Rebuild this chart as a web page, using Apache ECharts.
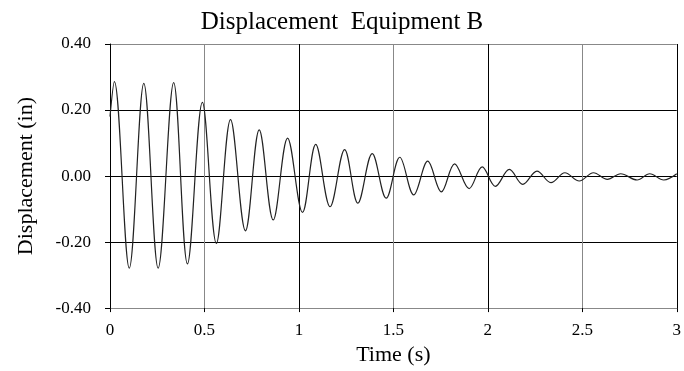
<!DOCTYPE html>
<html>
<head>
<meta charset="utf-8">
<script src="https://cdn.jsdelivr.net/npm/echarts@6/dist/echarts.min.js"></script>
<style>html,body{margin:0;padding:0;background:#fff;}#c{width:684px;height:371px;}</style>
</head>
<body>
<div id="c"></div>
<script>
const chartTitle = 'Displacement  Equipment B';
const xName = 'Time (s)';
const yName = 'Displacement (in)';
// peaks and troughs
const timeS = [0, 0.023, 0.102, 0.179, 0.255, 0.337, 0.41, 0.489, 0.563, 0.638, 0.717, 0.79, 0.864, 0.94, 1.019, 1.089, 1.165, 1.242, 1.312, 1.388, 1.462, 1.534, 1.608, 1.682, 1.754, 1.824, 1.901, 1.970, 2.04, 2.114, 2.185, 2.26, 2.334, 2.408, 2.484, 2.559, 2.633, 2.703, 2.79, 2.857, 2.931, 3.0];
const dispIn = [0.18, 0.286, -0.279, 0.281, -0.279, 0.283, -0.266, 0.223, -0.204, 0.171, -0.166, 0.140, -0.133, 0.115, -0.110, 0.096, -0.093, 0.080, -0.082, 0.068, -0.067, 0.057, -0.057, 0.045, -0.048, 0.037, -0.038, 0.028, -0.031, 0.020, -0.025, 0.015, -0.020, 0.010, -0.015, 0.010, -0.010, 0.007, -0.012, 0.007, -0.012, 0.007];
const xTicks = [0, 0.5, 1, 1.5, 2, 2.5, 3];
const yTicks = [-0.4, -0.2, 0, 0.2, 0.4];

const font = '"Liberation Serif", "Times New Roman", serif';
const chart = echarts.init(document.getElementById('c'), null, {renderer: 'canvas'});
chart.setOption({
  animation: false,
  backgroundColor: '#fff',
  title: {
    text: chartTitle, left: 'center', top: 5,
    textStyle: {fontFamily: font, fontSize: 25, fontWeight: 'normal', color: '#000'}
  },
  grid: {left: 110, right: 5, top: 44, bottom: 61},
  xAxis: {
    type: 'value', min: xTicks[0], max: xTicks[xTicks.length - 1], interval: 0.5,
    name: xName, nameLocation: 'middle', nameGap: 32,
    nameTextStyle: {fontFamily: font, fontSize: 22, color: '#000'},
    axisLine: {show: true, onZero: false, lineStyle: {color: '#888', width: 1}},
    axisTick: {show: true, length: 4, lineStyle: {color: '#000'}},
    axisLabel: {fontFamily: font, fontSize: 17, color: '#000', margin: 14,
      formatter: v => String(v)},
    splitLine: {show: true, lineStyle: {color: ['#000', '#888'], width: 1}}
  },
  yAxis: {
    type: 'value', min: yTicks[0], max: yTicks[yTicks.length - 1], interval: 0.2,
    name: yName, nameLocation: 'middle', nameGap: 73, nameRotate: 90,
    nameTextStyle: {fontFamily: font, fontSize: 22, color: '#000'},
    axisLine: {show: true, lineStyle: {color: '#000', width: 1}},
    axisTick: {show: true, length: 5, lineStyle: {color: '#000'}},
    axisLabel: {fontFamily: font, fontSize: 17, color: '#000', margin: 19,
      formatter: v => v.toFixed(2)},
    splitLine: {show: true, lineStyle: {color: ['#888', '#000', '#000', '#000', '#888'], width: 1}}
  },
  series: [{
    type: 'line',
    data: timeS.map((t, i) => [t, dispIn[i]]),
    smooth: 0.36,
    showSymbol: false,
    lineStyle: {color: '#222', width: 1.2}
  }]
});
</script>
</body>
</html>
